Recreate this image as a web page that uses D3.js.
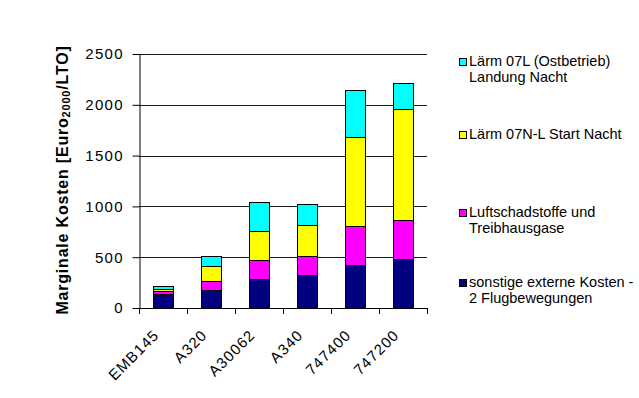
<!DOCTYPE html>
<html>
<head>
<meta charset="utf-8">
<script src="https://cdn.jsdelivr.net/npm/d3@7"></script>
<style>
  html, body { margin: 0; padding: 0; background: #fff; }
  svg { display: block; font-family: "Liberation Sans", Arial, sans-serif; }
  svg text { font-family: "Liberation Sans", Arial, sans-serif; }
</style>
</head>
<body>
<svg id="chart" width="639" height="398"></svg>
<script>
// ---- data ----
const categories = ["EMB145", "A320", "A30062", "A340", "747400", "747200"];
const seriesKeys = ["sonstige", "luft", "start", "landung"];
const sonstige = [133, 175, 285, 320, 428, 487];
const luft     = [30, 90, 183, 195, 375, 382];
const start    = [22, 147, 286, 305, 876, 1090];
const landung  = [33, 103, 289, 207, 470, 256];
const yTicks = [0, 500, 1000, 1500, 2000, 2500];
const legendLabels = {
  landung: ["Lärm 07L (Ostbetrieb)", "Landung Nacht"],
  start: ["Lärm 07N-L Start Nacht"],
  luft: ["Luftschadstoffe und", "Treibhausgase"],
  sonstige: ["sonstige externe Kosten -", "2 Flugbewegungen"]
};
const colors = { sonstige: "#000080", luft: "#FF00FF", start: "#FFFF00", landung: "#00FFFF" };

// table for stack
const table = categories.map((c, i) => ({
  cat: c, sonstige: sonstige[i], luft: luft[i], start: start[i], landung: landung[i]
}));

const svg = d3.select("#chart");
const L = 139, R = 427, T = 54, B = 308;

const x = d3.scaleBand().domain(categories).range([L, R]).paddingInner(0.58).paddingOuter(0.29);
const y = d3.scaleLinear().domain([0, 2500]).range([B, T]);

// gridlines
svg.append("g").selectAll("line").data(yTicks.filter(d => d > 0)).join("line")
  .attr("x1", L).attr("x2", R)
  .attr("y1", d => Math.round(y(d)) + 0.5).attr("y2", d => Math.round(y(d)) + 0.5)
  .attr("stroke", "#1a1a1a").attr("stroke-width", 1);

// bars
const stacked = d3.stack().keys(seriesKeys)(table);
svg.append("g").selectAll("g").data(stacked).join("g")
  .attr("fill", d => colors[d.key])
  .selectAll("rect").data(d => d).join("rect")
  .attr("x", d => Math.round(x(d.data.cat)) + 0.5)
  .attr("width", Math.round(x.bandwidth()))
  .attr("y", d => Math.round(y(d[1])) + 0.5)
  .attr("height", d => Math.round(y(d[0])) - Math.round(y(d[1])))
  .attr("stroke", "#000").attr("stroke-width", 1);

// y axis
const yAxis = svg.append("g").attr("transform", `translate(${L + 0.5},0)`)
  .call(d3.axisLeft(y).tickValues(yTicks).tickFormat(d3.format("d"))
    .tickSize(7).tickSizeOuter(0).tickPadding(10));
yAxis.attr("font-family", null);
yAxis.select(".domain").attr("stroke", "#000");
yAxis.selectAll(".tick line").attr("stroke", "#000");
yAxis.selectAll(".tick text")
  .attr("font-size", 15).attr("fill", "#000")
  .attr("letter-spacing", "1.3px")
  .attr("dx", "1.3px");

// x axis (line + boundary ticks)
const xg = svg.append("g");
xg.append("line").attr("x1", L).attr("x2", R).attr("y1", B + 0.5).attr("y2", B + 0.5).attr("stroke", "#000");
const bounds = d3.range(categories.length + 1).map(i => L + i * x.step());
xg.selectAll("line.tk").data(bounds).join("line").attr("class", "tk")
  .attr("x1", d => Math.round(d) + 0.5).attr("x2", d => Math.round(d) + 0.5)
  .attr("y1", B).attr("y2", B + 6).attr("stroke", "#000");
xg.selectAll("text").data(categories).join("text")
  .attr("transform", d => `translate(${x(d) + x.bandwidth() / 2 - 3},${B + 28}) rotate(-45)`)
  .attr("text-anchor", "end")
  .attr("font-size", 15).attr("letter-spacing", "1.1px")
  .text(d => d);

// y title
const yt = svg.append("text")
  .attr("transform", `translate(68,180) rotate(-90)`)
  .attr("text-anchor", "middle")
  .attr("font-weight", "bold").attr("font-size", 16).attr("letter-spacing", "0.8px");
yt.append("tspan").text("Marginale Kosten [Euro");
yt.append("tspan").attr("font-size", 11).attr("dy", 2).text("2000");
yt.append("tspan").attr("dy", -2).text("/LTO]");

// legend
const legendOrder = ["landung", "start", "luft", "sonstige"];
const legendY = [66, 139, 217, 287];
const lg = svg.append("g");
legendOrder.forEach((k, i) => {
  const g = lg.append("g").attr("transform", `translate(459,${legendY[i]})`);
  g.append("rect").attr("x", 0.5).attr("y", -7.5).attr("width", 7).attr("height", 7)
    .attr("fill", colors[k]).attr("stroke", "#000");
  legendLabels[k].forEach((t, j) => {
    g.append("text").attr("x", 10).attr("y", j * 15.5).attr("font-size", 14.5).text(t);
  });
});
</script>
</body>
</html>
